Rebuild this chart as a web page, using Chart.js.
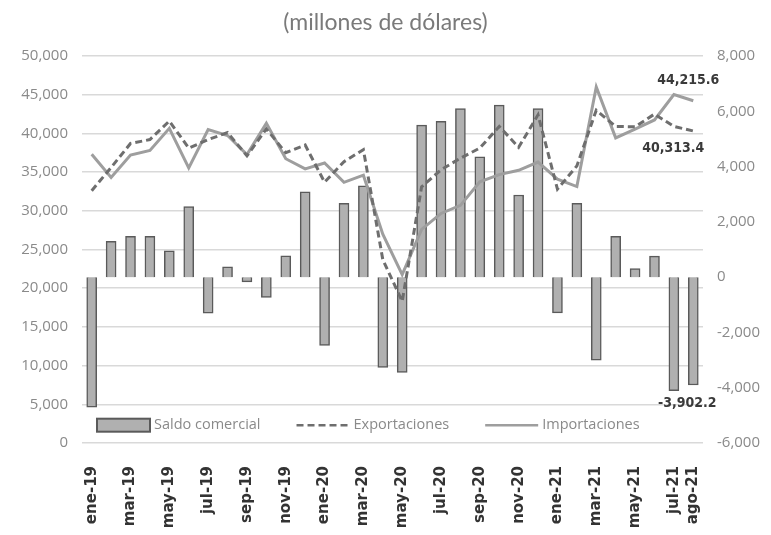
<!DOCTYPE html>
<html>
<head>
<meta charset="utf-8">
<script src="https://cdn.jsdelivr.net/npm/chart.js@4.4.1/dist/chart.umd.min.js"></script>
<style>
	html, body { margin: 0; padding: 0; background: #fff; }
	#wrap { width: 771px; height: 535px; position: relative; }
</style>
</head>
<body>
<div id="wrap"><canvas id="chart"></canvas></div>
<script>
// ---- Data (millones de dólares) ----
const meses = [
	"ene-19", "feb-19", "mar-19", "abr-19", "may-19", "jun-19", "jul-19", "ago-19",
	"sep-19", "oct-19", "nov-19", "dic-19", "ene-20", "feb-20", "mar-20", "abr-20",
	"may-20", "jun-20", "jul-20", "ago-20", "sep-20", "oct-20", "nov-20", "dic-20",
	"ene-21", "feb-21", "mar-21", "abr-21", "may-21", "jun-21", "jul-21", "ago-21",
];
const exportaciones = [
	32600, 35600, 38700, 39200, 41600, 38100, 39200, 40100,
	37100, 40570, 37500, 38500, 33700, 36350, 37900, 23700,
	18300, 33100, 35300, 36800, 38100, 40900, 38200, 42400,
	32800, 35800, 43000, 40900, 40850, 42500, 40900, 40313.4,
];
const importaciones = [
	37300, 34300, 37200, 37800, 40650, 35550, 40500, 39730,
	37270, 41300, 36730, 35410, 36170, 33680, 34600, 26970,
	21750, 27600, 29660, 30700, 33750, 34680, 35230, 36300,
	34090, 33130, 46000, 39420, 40540, 41740, 45010, 44215.6,
];
const saldo = [
	-4700, 1300, 1480, 1480, 950, 2550, -1300, 370,
	-170, -730, 770, 3090, -2470, 2670, 3300, -3270,
	-3450, 5500, 5640, 6100, 4350, 6220, 2970, 6100,
	-1290, 2670, -3000, 1480, 310, 760, -4110, -3902.2,
];
const ticksIzq = { min: 0, max: 50000, step: 5000 };
const ticksDer = { min: -6000, max: 8000, step: 2000 };
const titulo = "(millones de dólares)";

// ---- Styles ----
const NARROW = "'Liberation Sans Narrow', 'Open Sans', sans-serif";
const GRAY_TXT = "#8a8a8a";
const fmt = (v) => Number(v).toLocaleString("en-US", { maximumFractionDigits: 1, minimumFractionDigits: v % 1 ? 1 : 0 });

// legend drawn inside the plot, between the 0 and 5,000 grid lines
const legendInside = {
	id: "legendInside",
	afterDraw(chart) {
		const { ctx, chartArea } = chart;
		const y = chart.scales.y.getPixelForValue(2300);
		let x = chartArea.left + 15;
		ctx.save();
		ctx.font = "14.5px " + NARROW;
		ctx.textBaseline = "middle";
		chart.data.datasets.forEach((ds) => {
			const w = 53;
			if (ds.type === "bar") {
				ctx.fillStyle = ds.backgroundColor;
				ctx.strokeStyle = ds.borderColor;
				ctx.lineWidth = 2;
				ctx.fillRect(x, y - 6.5, w, 13);
				ctx.strokeRect(x, y - 6.5, w, 13);
			} else {
				ctx.strokeStyle = ds.borderColor;
				ctx.lineWidth = 2.5;
				ctx.setLineDash(ds.borderDash || []);
				ctx.beginPath();
				ctx.moveTo(x, y);
				ctx.lineTo(x + w, y);
				ctx.stroke();
				ctx.setLineDash([]);
			}
			x += w + 4;
			ctx.fillStyle = GRAY_TXT;
			ctx.fillText(ds.label, x, y);
			x += ctx.measureText(ds.label).width + 36;
		});
		ctx.restore();
	},
};

// last-value labels
const lastLabels = {
	id: "lastLabels",
	afterDatasetsDraw(chart) {
		const { ctx } = chart;
		const n = meses.length - 1;
		const pBar = chart.getDatasetMeta(0).data[n];
		const pExp = chart.getDatasetMeta(1).data[n];
		const pImp = chart.getDatasetMeta(2).data[n];
		ctx.save();
		ctx.font = "bold 14px 'DejaVu Sans Condensed', 'Liberation Sans', sans-serif";
		ctx.fillStyle = "#3a3a3a";
		ctx.textAlign = "center";
		ctx.textBaseline = "middle";
		ctx.fillText(fmt(importaciones[n]), pImp.x - 5, pImp.y - 20);
		ctx.fillText(fmt(exportaciones[n]), pExp.x - 20, pExp.y + 17);
		ctx.fillText(fmt(saldo[n]), pBar.x - 6, pBar.y + 18);
		ctx.restore();
	},
};

new Chart(document.getElementById("chart"), {
	data: {
		labels: meses,
		datasets: [
			{
				type: "bar",
				label: "Saldo comercial",
				data: saldo,
				yAxisID: "y1",
				backgroundColor: "#b0b0b0",
				borderColor: "#5a5a5a",
				borderWidth: 1.5,
				barThickness: 10,
				order: 3,
			},
			{
				type: "line",
				label: "Exportaciones",
				data: exportaciones,
				yAxisID: "y",
				borderColor: "#6e6e6e",
				borderWidth: 3,
				borderDash: [7, 4],
				pointRadius: 0,
				tension: 0,
				order: 1,
			},
			{
				type: "line",
				label: "Importaciones",
				data: importaciones,
				yAxisID: "y",
				borderColor: "#9e9e9e",
				borderWidth: 3,
				pointRadius: 0,
				tension: 0,
				order: 2,
			},
		],
	},
	options: {
		responsive: true,
		maintainAspectRatio: false,
		animation: false,
		layout: { padding: 0 },
		plugins: {
			legend: { display: false },
			tooltip: { enabled: false },
			title: {
				display: true,
				text: titulo,
				color: "#7a7a7a",
				font: { family: "Lato, 'Open Sans', sans-serif", size: 23, weight: "normal", lineHeight: 1.2 },
				padding: { top: 9, bottom: 19.4 },
			},
		},
		scales: {
			x: {
				grid: { display: false },
				border: { display: false },
				ticks: {
					autoSkip: false,
					minRotation: 90,
					maxRotation: 90,
					padding: 15,
					color: "#333",
					font: { family: "'DejaVu Sans', sans-serif", size: 15, weight: "bold" },
					callback: (v, i) => (i % 2 === 0 || i === meses.length - 1 ? meses[i] : ""),
				},
				afterFit: (s) => { s.height = 92; },
			},
			y: {
				position: "left",
				min: ticksIzq.min,
				max: ticksIzq.max,
				grid: { color: "#d9d9d9", lineWidth: 1.5, drawTicks: false },
				border: { display: false },
				ticks: {
					stepSize: ticksIzq.step,
					padding: 14,
					color: GRAY_TXT,
					font: { family: NARROW, size: 15 },
					callback: (v) => fmt(v),
				},
				afterFit: (s) => { s.width = 82; },
			},
			y1: {
				position: "right",
				min: ticksDer.min,
				max: ticksDer.max,
				grid: { display: false, drawTicks: false },
				border: { display: false },
				ticks: {
					stepSize: ticksDer.step,
					padding: 14,
					color: GRAY_TXT,
					font: { family: NARROW, size: 15 },
					callback: (v) => fmt(v),
				},
				afterFit: (s) => { s.width = 68; },
			},
		},
	},
	plugins: [legendInside, lastLabels],
});
</script>
</body>
</html>
